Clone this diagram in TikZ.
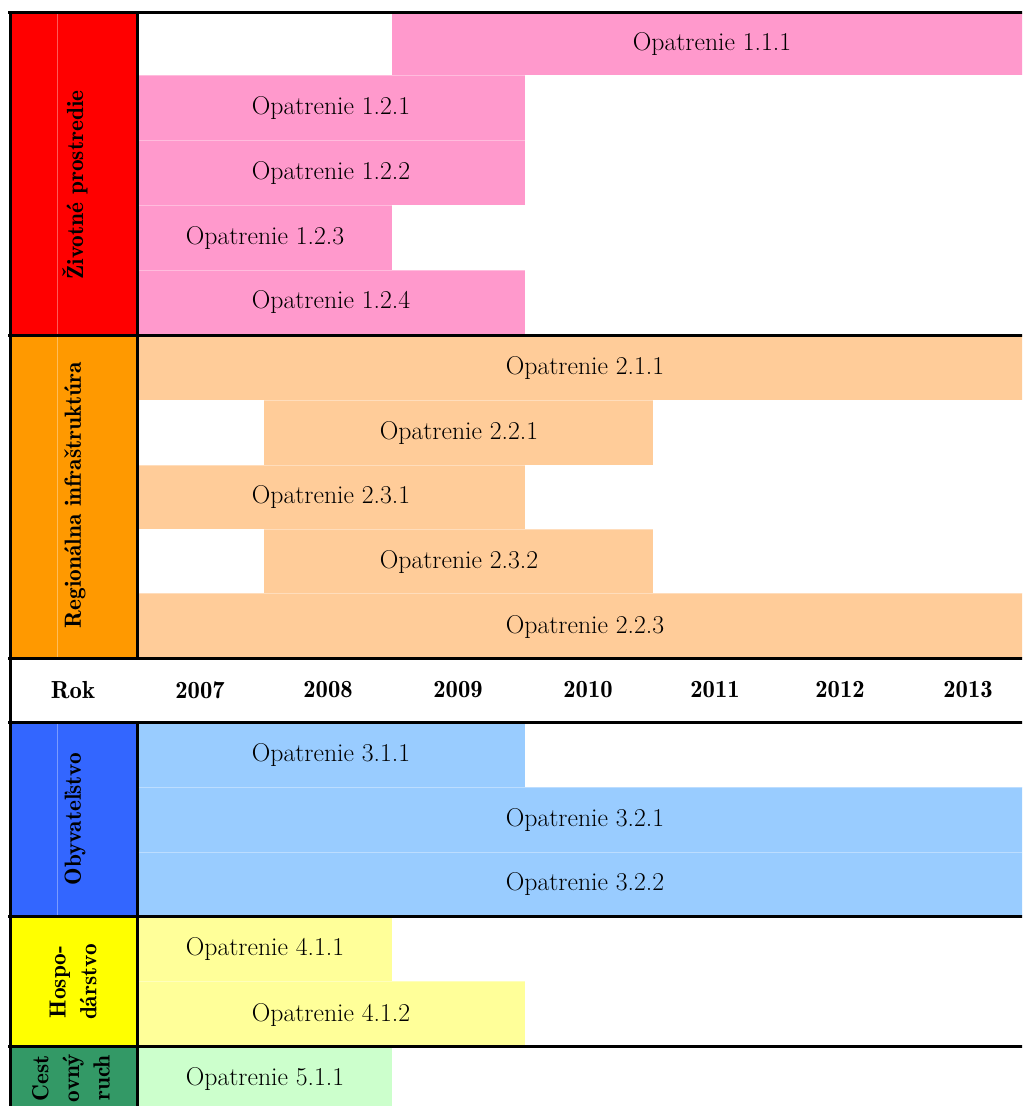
\documentclass[tikz,border=0pt]{standalone}
\usepackage{fontspec}
\usepackage{tikz}
\newfontfamily\demifont{lmromandemi10-regular}[Extension=.otf]

\begin{document}
\begin{tikzpicture}[x=0.75pt,y=0.75pt,yscale=-1,
  rule/.style={line width=2.25pt},
  seam/.style={draw=white, draw opacity=0.35, line width=0.6pt},
  envcat/.style={fill={rgb, 255:red, 255; green, 0; blue, 0 }},
  infcat/.style={fill={rgb, 255:red, 255; green, 153; blue, 0 }},
  popcat/.style={fill={rgb, 255:red, 51; green, 102; blue, 255 }},
  ecocat/.style={fill={rgb, 255:red, 255; green, 255; blue, 0 }},
  tourcat/.style={fill={rgb, 255:red, 51; green, 153; blue, 102 }},
  envbar/.style={fill={rgb, 255:red, 255; green, 153; blue, 204 }},
  infbar/.style={fill={rgb, 255:red, 255; green, 204; blue, 153 }},
  popbar/.style={fill={rgb, 255:red, 153; green, 204; blue, 255 }},
  ecobar/.style={fill={rgb, 255:red, 255; green, 255; blue, 153 }},
  tourbar/.style={fill={rgb, 255:red, 204; green, 255; blue, 204 }},
  bartext/.style={font=\fontsize{19.3}{22}\selectfont},
  headtext/.style={font=\demifont\fontsize{18.5}{22}\selectfont},
  grouptext/.style={font=\demifont\fontsize{17.5}{23}\selectfont, rotate=90, align=center}]
\useasboundingbox (0,0) rectangle (1022,1106);
\clip (0,0) rectangle (1022,1106);

%Shape: category cells
\fill [envcat] (10,13) rectangle (137,335);
\fill [infcat] (10,335) rectangle (137,658);
\fill [popcat] (10,722) rectangle (137,916);
\fill [ecocat] (10,916) rectangle (137,1046);
\fill [tourcat] (10,1046) rectangle (137,1110);

%Shape: bars
\fill [envbar] (392,13) rectangle (1033,75);
\fill [envbar] (137,75) rectangle (525,140);
\fill [envbar] (137,140) rectangle (525,205);
\fill [envbar] (137,205) rectangle (392,270);
\fill [envbar] (137,270) rectangle (525,335);
\fill [infbar] (137,335) rectangle (1033,400);
\fill [infbar] (264,400) rectangle (653,465);
\fill [infbar] (137,465) rectangle (525,529);
\fill [infbar] (264,529) rectangle (653,593);
\fill [infbar] (137,593) rectangle (1033,658);
\fill [popbar] (137,722) rectangle (525,787);
\fill [popbar] (137,787) rectangle (1033,852);
\fill [popbar] (137,852) rectangle (1033,916);
\fill [ecobar] (137,916) rectangle (392,981);
\fill [ecobar] (137,981) rectangle (525,1046);
\fill [tourbar] (137,1046) rectangle (392,1110);

%Shape: faint cell seams
\draw [seam] (57,13) -- (57,658) (57,722) -- (57,916);
\draw [seam] (137,75) -- (1033,75) (137,140) -- (1033,140) (137,205) -- (1033,205) (137,270) -- (1033,270);
\draw [seam] (137,400) -- (1033,400) (137,465) -- (1033,465) (137,529) -- (1033,529) (137,593) -- (1033,593);
\draw [seam] (137,787) -- (1033,787) (137,852) -- (1033,852) (137,981) -- (1033,981);

%Shape: table rules
\draw [rule] (8,13) -- (1033,13) (8,335) -- (1033,335) (8,658) -- (1033,658) (8,722) -- (1033,722) (8,916) -- (1033,916) (8,1046) -- (1033,1046);
\draw [rule] (10,13) -- (10,1110);
\draw [rule] (137,13) -- (137,658) (137,722) -- (137,1110);

% Text Node
\node [grouptext] (zivot) at (75,185) {Životné prostredie};
% Text Node
\node [grouptext] (region) at (75,495) {Regionálna infraštruktúra};
% Text Node
\node [grouptext] (obyv) at (75,819) {Obyvateľstvo};
% Text Node
\node [grouptext] (hosp) at (73,982) {Hospo-\\dárstvo};
% Text Node
\node [grouptext] (cestruch) at (71,1078) {Cest\\ovný\\ruch};

% Text Node
\node [bartext] (op111) at (712,44) {Opatrenie 1.1.1};
% Text Node
\node [bartext] (op121) at (331,108) {Opatrenie 1.2.1};
% Text Node
\node [bartext] (op122) at (331,173) {Opatrenie 1.2.2};
% Text Node
\node [bartext] (op123) at (265,238) {Opatrenie 1.2.3};
% Text Node
\node [bartext] (op124) at (331,302) {Opatrenie 1.2.4};
% Text Node
\node [bartext] (op211) at (585,368) {Opatrenie 2.1.1};
% Text Node
\node [bartext] (op221) at (459,433) {Opatrenie 2.2.1};
% Text Node
\node [bartext] (op231) at (331,497) {Opatrenie 2.3.1};
% Text Node
\node [bartext] (op232) at (459,562) {Opatrenie 2.3.2};
% Text Node
\node [bartext] (op223) at (585,627) {Opatrenie 2.2.3};
% Text Node
\node [bartext] (op311) at (331,755) {Opatrenie 3.1.1};
% Text Node
\node [bartext] (op321) at (585,820) {Opatrenie 3.2.1};
% Text Node
\node [bartext] (op322) at (585,884) {Opatrenie 3.2.2};
% Text Node
\node [bartext] (op411) at (265,949) {Opatrenie 4.1.1};
% Text Node
\node [bartext] (op412) at (331,1015) {Opatrenie 4.1.2};
% Text Node
\node [bartext] (op511) at (265,1079) {Opatrenie 5.1.1};

% Text Node
\node [headtext] (rok) at (73,690) {Rok};
% Text Node
\node [headtext] (y2007) at (200,690) {2007};
% Text Node
\node [headtext] (y2008) at (328,690) {2008};
% Text Node
\node [headtext] (y2009) at (458,690) {2009};
% Text Node
\node [headtext] (y2010) at (588,690) {2010};
% Text Node
\node [headtext] (y2011) at (715,690) {2011};
% Text Node
\node [headtext] (y2012) at (840,690) {2012};
% Text Node
\node [headtext] (y2013) at (968,690) {2013};
\end{tikzpicture}
\end{document}
